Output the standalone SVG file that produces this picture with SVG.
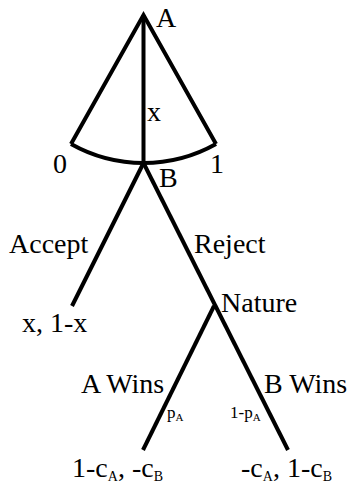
<svg xmlns="http://www.w3.org/2000/svg" width="354" height="483" viewBox="0 0 354 483">
<style>
text{font-family:"Liberation Serif","Times New Roman",serif;font-size:28px;fill:#000}
.sm{font-size:17px}
.sub{font-size:14px}
.ssub{font-size:11px}
.ln{stroke:#000;stroke-width:4;fill:none;stroke-linecap:butt}
</style>
<rect width="354" height="483" fill="#fff"/>
<g id="offer-range">
<path class="ln" d="M71,144 L143.5,15 L216,144" stroke-linejoin="miter" stroke-miterlimit="10"/>
<path class="ln" d="M71,144 A148,148 0 0 0 216,144"/>
<text x="53" y="173">0</text>
<text x="210" y="173">1</text>
<text x="147" y="121">x</text>
</g>
<g id="connectors">
<line class="ln" x1="143.5" y1="15" x2="143.5" y2="163"/>
<line class="ln" x1="143.5" y1="163" x2="72" y2="306"/>
<line class="ln" x1="143.5" y1="163" x2="288" y2="450"/>
<line class="ln" x1="214" y1="306" x2="143" y2="450"/>
</g>
<g id="node-A"><text x="156" y="27">A</text></g>
<g id="node-B"><text x="159" y="187">B</text></g>
<g id="edge-accept"><text x="9" y="253">Accept</text></g>
<g id="edge-reject"><text x="194" y="253">Reject</text></g>
<g id="leaf-accept"><text x="22" y="332">x, 1-x</text></g>
<g id="node-nature"><text x="221" y="312">Nature</text></g>
<g id="edge-awins"><text x="81" y="393">A Wins</text><text x="167" y="418" class="sm">p<tspan class="ssub" dy="3">A</tspan></text></g>
<g id="edge-bwins"><text x="264" y="393">B Wins</text><text x="230" y="418" class="sm">1-p<tspan class="ssub" dy="3">A</tspan></text></g>
<g id="leaf-awins"><text x="72" y="477">1-c<tspan class="sub" dy="4">A</tspan><tspan dy="-4">, -c</tspan><tspan class="sub" dy="4">B</tspan></text></g>
<g id="leaf-bwins"><text x="241" y="477">-c<tspan class="sub" dy="4">A</tspan><tspan dy="-4">, 1-c</tspan><tspan class="sub" dy="4">B</tspan></text></g>
</svg>
